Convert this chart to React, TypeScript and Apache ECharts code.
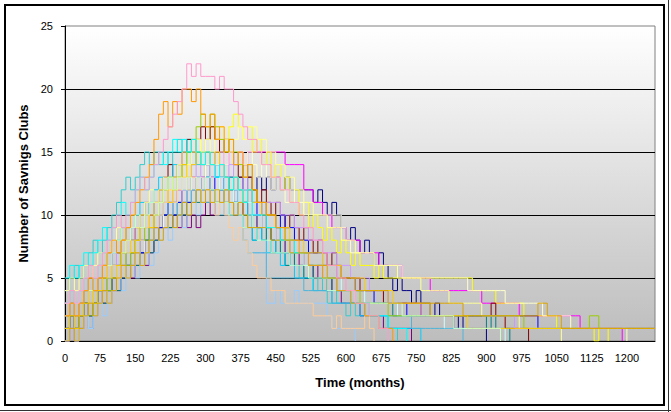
import React, { useEffect, useRef } from "react";
import * as echarts from "echarts";

// months between consecutive samples of every series
const SAMPLE_STEP = 10;

const X_MAX = 1260;
const X_INTERVAL = 75;
const Y_MAX = 25;
const Y_INTERVAL = 5;

const xTitle = "Time (months)";
const yTitle = "Number of Savnigs Clubs";

// number of savings clubs, one value every 10 months, starting at month 0
const navy = [0,1,0,1,2,1,2,3,4,3, 4,5,6,5,6,7,8,7,8,9, 10,9,10,11,12,11,12,13,12,13, 14,13,14,13,12,13,12,13,12,13, 12,13,12,13,12,13,12,13,12,12, 12,12,12,11,12,11,10,11,10,9, 8,9,8,7,8,7,6,7,6,5, 4,5,4,4,3,4,3,3,2,3, 2,2,2,1,2,1,1,1,1,1, 0];
const magenta = [0,1,0,1,2,3,2,3,4,3, 4,5,6,5,6,7,8,7,8,9, 10,9,10,11,12,11,12,13,12,13, 14,13,14,15,14,15,14,15,14,15, 15,15,15,15,15,15,15,14,14,14, 14,12,12,11,11,10,10,9,9,9, 8,8,8,7,7,7,7,6,6,6, 6,6,5,5,5,5,5,5,4,4, 4,4,4,4,4,4,4,4,4,3, 3,3,3,3,3,3,3,2,2,2, 2,2,2,2,2,2,2,2,2,2, 1,1,1,1,1,1,1,1,1,0];
const yellow = [2,3,2,3,4,3,4,5,6,5, 6,7,8,7,8,9,10,9,10,11, 12,11,12,13,14,13,14,15,16,15, 16,17,16,17,16,17,18,17,16,17, 15,16,14,15,13,14,12,13,11,12, 10,11,9,10,9,8,9,8,7,8, 7,6,7,6,6,6,5,6,5,5, 5,5,5,5,5,5,5,5,5,5, 5,5,5,5,5,5,5,4,4,4, 4,4,3,3,3,3,3,3,2,2, 2,2,2,2,2,1,1,1,1,1, 1,1,1,0,1,1,0];
const turquoise = [4,5,6,5,6,7,8,7,8,9, 10,11,12,13,12,13,14,15,14,15, 14,15,14,15,16,15,16,15,14,15, 14,15,14,13,12,13,12,11,10,11, 9,10,8,9,8,7,8,6,7,6, 5,6,5,4,5,4,3,4,3,3, 2,3,2,2,3,2,2,1,2,1, 1,0];
const purple = [1,2,1,2,3,2,3,4,3,4, 5,4,5,6,5,6,7,6,7,8, 9,10,9,10,9,10,9,10,9,10, 11,10,11,12,11,12,11,10,11,10, 10,9,10,9,8,9,8,7,8,7, 6,7,6,5,6,5,4,5,4,3, 3,3,3,2,2,2,2,2,1,1, 1,1,1,1,0];
const maroon = [2,3,2,3,4,5,4,5,6,7, 6,7,8,9,8,9,10,11,10,11, 12,13,14,13,14,15,16,15,16,17, 16,17,16,15,16,15,14,13,14,13, 12,11,12,11,10,11,10,9,10,9, 8,9,8,7,8,7,6,7,6,5, 5,5,5,4,4,4,4,4,3,3, 3,3,3,3,3,3,2,2,2,2, 2,2,2,2,2,2,2,2,2,2, 2,3,2,2,1,1,1,1,1,0];
const teal = [1,2,1,2,3,2,3,4,3,4, 5,4,5,6,7,6,7,8,7,8, 9,10,9,10,11,10,11,12,11,12, 13,12,11,12,11,10,11,10,9,10, 8,9,8,9,7,8,7,6,7,6, 6,5,6,5,5,5,4,5,4,4, 4,3,3,3,3,3,3,3,3,3, 2,2,2,2,2,2,2,2,2,2, 2,2,2,2,2,2,2,2,2,2, 1,2,1,1,1,0];
const blue = [1,2,1,2,3,2,3,4,5,4, 5,6,7,6,7,8,7,8,9,10, 9,10,11,10,11,12,11,12,13,12, 13,12,13,12,13,12,11,12,11,12, 11,10,11,10,10,9,10,9,9,8, 8,8,7,7,7,6,6,6,5,5, 5,5,4,4,4,4,3,3,3,3, 3,3,3,2,2,2,2,2,2,2, 2,2,2,2,2,2,2,2,2,2, 2,2,2,2,2,2,2,2,2,2, 2,1,1,1,1,1,1,1,1,1, 1,1,1,1,1,1,1,1,1,1, 1,1,1,1,1,1,1];
const sky = [3,4,3,4,5,4,5,6,7,6, 7,8,9,8,9,10,11,10,11,12, 13,12,13,14,13,14,15,14,15,14, 13,14,13,12,13,12,11,12,11,10, 8,9,8,7,8,7,6,7,6,5, 5,5,5,4,4,4,4,3,3,3, 3,3,3,2,2,2,2,2,2,1, 1,1,1,1,1,1,0];
const paleCyan = [0,1,0,1,2,1,2,3,4,3, 4,5,6,5,6,7,6,7,8,9, 10,9,10,11,10,11,12,11,12,11, 12,11,12,13,12,11,12,11,12,11, 10,10,9,9,9,8,8,8,7,7, 7,6,6,6,6,5,5,5,5,4, 4,4,4,4,3,3,3,3,3,3, 3,2,2,2,2,2,2,2,2,2, 2,1,1,1,1,1,1,1,1,1, 1,1,1,1,0];
const cream = [0,1,0,1,2,3,2,3,4,3, 4,5,6,5,6,7,8,7,8,9, 10,9,10,11,12,11,12,13,12,13, 14,13,14,15,14,15,14,15,14,15, 14,13,14,13,12,13,12,11,12,11, 11,10,10,10,10,10,10,10,10,9, 8,7,7,7,7,7,6,6,6,6, 6,6,5,5,5,5,5,5,5,5, 5,5,5,5,5,5,4,4,4,4, 4,4,4,4,3,3,3,3,3,3, 3,3,2,2,2,2,2,2,1,1, 1,1,1,1,1,1,1,1,1,1, 0];
const paleYellow = [4,5,4,5,6,5,6,7,6,7, 8,9,8,9,10,9,10,11,12,11, 12,13,12,13,14,15,14,15,16,15, 16,15,16,17,16,15,16,17,16,17, 17,16,16,15,15,14,14,13,13,12, 12,11,11,10,10,10,9,9,9,8, 8,8,7,7,7,7,6,6,6,6, 6,5,5,5,5,5,4,4,4,4, 4,4,3,3,3,3,3,3,3,2, 2,2,2,2,2,2,2,1,1,1, 1,1,1,1,1,1,0];
const lightBlue = [0,1,0,1,2,1,2,3,2,3, 4,5,4,5,6,5,6,7,6,7, 8,9,8,9,10,9,10,11,10,11, 12,11,10,11,10,11,10,10,8,7, 7,7,7,3,3,4,3,3,3,4, 3,3,3,3,3,3,2,1,1,1, 1,1,0];
const steelBlue = [2,3,2,3,4,3,4,5,4,5, 6,7,6,7,8,7,8,9,8,9, 10,11,10,11,10,11,12,11,12,11, 11,12,11,10,11,10,11,10,8,7, 7,7,7,5,5,5,5,5,5,5, 5,4,4,4,4,4,4,3,3,3, 3,3,3,3,2,2,2,2,2,2, 2,2,2,2,1,1,1,1,1,1, 1,1,1,1,1,0];
const pink = [3,4,3,4,5,6,5,6,7,8, 9,10,9,10,11,12,13,12,13,14, 15,16,17,18,19,20,22,21,22,21, 21,21,20,21,20,20,19,18,17,16, 16,15,14,14,13,13,12,12,11,11, 10,9,9,8,8,7,6,6,5,5, 4,4,3,3,3,2,2,1,1,0];
const lavender = [3,4,3,4,5,4,5,6,5,6, 7,6,7,8,9,8,9,10,9,10, 11,12,11,12,13,12,13,14,13,14, 15,14,15,14,13,14,13,12,13,12, 11,11,11,11,11,11,10,10,10,9, 9,9,8,8,8,7,7,7,6,6, 6,5,5,5,5,4,4,4,4,3, 3,3,3,3,3,3,2,2,2,2, 2,2,2,2,2,2,2,2,2,2, 2,2,2,2,2,2,1,1,1,1, 1,1,1,1,1,1,1,1,1,1, 1,1,1,1,1,1,1,1,1,1, 1,1,1,1,1,1,1];
const peach = [2,3,2,3,4,3,4,5,4,5, 6,5,6,7,8,7,8,9,10,9, 10,11,12,11,12,13,12,13,12,11, 12,11,10,11,10,9,8,9,8,7, 6,5,5,5,4,4,4,3,3,3, 3,3,3,2,2,2,2,1,2,1, 1,1,1,1,2,1,0];
const green = [1,2,1,2,3,2,3,4,5,4, 5,6,7,6,7,8,9,8,9,10, 11,12,13,12,13,14,15,16,17,18, 17,18,17,16,15,16,15,14,13,14, 12,11,11,10,10,9,9,8,8,7, 7,7,6,6,6,5,5,5,4,4, 4,4,4,3,3,3,3,3,3,2, 2,2,2,2,2,2,2,2,2,2, 2,2,2,2,2,2,2,2,2,2, 2,2,2,2,2,2,2,2,1,1, 1,1,1,1,1,1,1,1,1,1, 1,1,2,2,1,1,1,1,1,1, 1,1,1,1,1,1,1];
const orange = [2,3,2,3,4,5,4,5,6,7, 8,7,8,9,10,11,12,13,14,16, 18,19,17,19,18,20,20,19,20,18, 17,18,16,17,15,16,14,15,13,14, 12,11,11,10,10,9,9,8,8,8, 7,7,6,6,6,5,5,5,4,4, 4,3,3,3,2,2,2,1,1,1, 0];
const gold = [1,2,1,2,3,4,3,4,5,6, 5,6,7,8,7,8,9,10,9,10, 11,12,11,12,13,14,13,14,15,14, 15,14,15,14,13,12,13,12,11,12, 11,11,10,10,10,9,9,9,8,8, 8,7,7,7,7,6,6,6,6,5, 5,5,5,5,4,4,4,4,4,4, 3,3,3,3,3,3,3,3,2,2, 2,2,2,2,2,2,1,1,1,1, 1,1,1,1,1,1,1,1,1,1, 1,1,1,1,1,1,1,1,1,1, 1,1,1,1,1,1,1,1,1,1, 1,1,1,1,1,1,1];
const paleGreen = [3,4,3,4,5,4,5,6,7,6, 7,8,7,8,9,10,9,10,11,10, 11,12,13,12,13,12,13,12,13,12, 13,12,11,12,11,10,11,10,9,10, 9,8,8,8,7,7,7,7,6,6, 6,6,5,5,5,5,4,4,4,4, 4,4,3,3,3,3,3,3,3,3, 3,3,2,2,2,2,2,2,2,2, 2,2,2,1,1,1,1,1,1,1, 1,1,1,0];
const darkGold = [0,1,0,1,2,3,2,3,4,3, 4,5,6,5,6,7,6,7,8,9, 8,9,10,9,10,11,10,11,12,11, 12,11,12,11,12,11,10,11,10,9, 9,9,9,9,8,8,8,8,7,7, 7,7,6,6,6,6,5,5,5,5, 5,5,4,4,4,4,4,4,4,3, 3,3,3,3,3,3,3,3,3,3, 3,3,3,3,3,2,2,2,2,2, 2,2,2,2,2,2,2,2,2,2, 2,3,3,2,2,2,1,1,1,1, 1,1,1,1,1,1,1,1,1,1, 1,1,1,1,1,1,1];
const cyan = [5,6,5,6,7,6,7,8,9,8, 9,10,11,10,11,12,13,12,13,14, 15,14,15,16,15,16,15,16,15,14, 15,14,13,14,13,12,13,12,11,12, 10,10,10,9,9,9,8,8,8,7, 7,7,6,6,6,5,5,5,4,4, 4,3,3,3,3,2,2,2,2,1, 1,1,1,0];

const seriesList: { name: string; color: string; values: number[] }[] = [
  { name: "Club run 1", color: "#000080", values: navy },
  { name: "Club run 2", color: "#FF00FF", values: magenta },
  { name: "Club run 3", color: "#FFFF00", values: yellow },
  { name: "Club run 4", color: "#33CCCC", values: turquoise },
  { name: "Club run 5", color: "#800080", values: purple },
  { name: "Club run 6", color: "#800000", values: maroon },
  { name: "Club run 7", color: "#008080", values: teal },
  { name: "Club run 8", color: "#0000FF", values: blue },
  { name: "Club run 9", color: "#00CCFF", values: sky },
  { name: "Club run 10", color: "#CCFFFF", values: paleCyan },
  { name: "Club run 11", color: "#FFFFCC", values: cream },
  { name: "Club run 12", color: "#FFFF99", values: paleYellow },
  { name: "Club run 13", color: "#99CCFF", values: lightBlue },
  { name: "Club run 14", color: "#4FB4D8", values: steelBlue },
  { name: "Club run 15", color: "#CC99FF", values: lavender },
  { name: "Club run 16", color: "#FFCC99", values: peach },
  { name: "Club run 17", color: "#99CC00", values: green },
  { name: "Club run 18", color: "#FFCC00", values: gold },
  { name: "Club run 19", color: "#CCFFCC", values: paleGreen },
  { name: "Club run 20", color: "#D9A300", values: darkGold },
  { name: "Club run 21", color: "#00FFFF", values: cyan },
  { name: "Club run 22", color: "#FF9900", values: orange },
  { name: "Club run 23", color: "#FF99CC", values: pink },
];

const FONT = "'Liberation Sans', Arial, sans-serif";

export default function App() {
  const ref = useRef<HTMLDivElement>(null);

  useEffect(() => {
    if (!ref.current) return;
    const chart = echarts.init(ref.current, undefined, { renderer: "svg" });
    chart.setOption({
      animation: false,
      backgroundColor: "#ffffff",
      textStyle: { fontFamily: FONT },
      grid: {
        left: 65,
        top: 26,
        right: 16,
        bottom: 71,
        show: true,
        borderColor: "#808080",
        borderWidth: 1,
        backgroundColor: new echarts.graphic.LinearGradient(0, 0, 0, 1, [
          { offset: 0, color: "#ffffff" },
          { offset: 1, color: "#bdbdbd" },
        ]),
      },
      xAxis: {
        type: "value",
        min: 0,
        max: X_MAX,
        interval: X_INTERVAL,
        name: xTitle,
        nameLocation: "middle",
        nameGap: 35,
        nameTextStyle: { fontFamily: FONT, fontSize: 13, fontWeight: "bold", color: "#000" },
        axisLine: { show: true, onZero: false, lineStyle: { color: "#000", width: 1 } },
        axisTick: { show: false },
        axisLabel: {
          fontFamily: FONT,
          fontSize: 11,
          color: "#000",
          margin: 11,
          showMaxLabel: false,
          formatter: (v: number) => String(v),
        },
        splitLine: { show: false },
      },
      yAxis: {
        type: "value",
        min: 0,
        max: Y_MAX,
        interval: Y_INTERVAL,
        name: yTitle,
        nameLocation: "middle",
        nameGap: 31,
        nameTextStyle: { fontFamily: FONT, fontSize: 13, fontWeight: "bold", color: "#000" },
        axisLine: { show: true, lineStyle: { color: "#000", width: 1 } },
        axisTick: { show: true, length: 4, lineStyle: { color: "#000" } },
        axisLabel: { fontFamily: FONT, fontSize: 11, color: "#000", margin: 12 },
        splitLine: { show: true, showMaxLine: false, lineStyle: { color: "#000", width: 1 } },
      },
      graphic: [
        {
          type: "rect",
          shape: { x: 5, y: 5, width: 659, height: 400 },
          style: { fill: "none", stroke: "#000", lineWidth: 2 },
          silent: true,
        },
        {
          type: "line",
          shape: { x1: 668.5, y1: 0, x2: 668.5, y2: 412 },
          style: { stroke: "#333", lineWidth: 1 },
          silent: true,
        },
        {
          type: "line",
          shape: { x1: 0, y1: 410.5, x2: 671, y2: 410.5 },
          style: { stroke: "#333", lineWidth: 1 },
          silent: true,
        },
      ],
      series: seriesList.map((s) => ({
        name: s.name,
        type: "line",
        step: "end",
        showSymbol: false,
        symbol: "none",
        data: s.values.map((v, i) => [i * SAMPLE_STEP, v]),
        lineStyle: { color: s.color, width: 1 },
        itemStyle: { color: s.color },
        emphasis: { disabled: true },
      })),
    });
    return () => chart.dispose();
  }, []);

  return (
    <div
      ref={ref}
      style={{ position: "fixed", left: 0, top: 0, width: 671, height: 412 }}
    />
  );
}
